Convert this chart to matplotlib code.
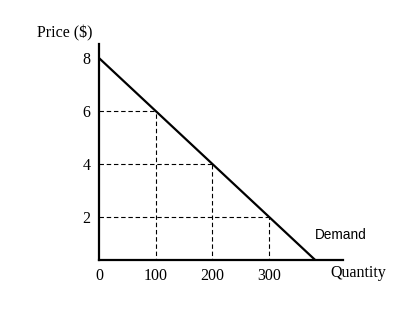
import matplotlib.pyplot as plt
import numpy as np

# demand curve: P = 8 - 0.02 Q
demand_q = [0, 400]
demand_p = [8, 0]

# marked points on the curve
point_q = [100, 200, 300]
point_p = [6, 4, 2]

x_ticks = [0, 100, 200, 300]
y_ticks = [2, 4, 6, 8]

serif = ['Liberation Serif', 'DejaVu Serif']
sans = ['Liberation Sans', 'DejaVu Sans']

fig = plt.figure(figsize=(4.15, 3.12), dpi=100)
ax = fig.add_axes([99 / 415, 52 / 312, 244 / 415, 216 / 312])

ax.plot(demand_q, demand_p, color='black', lw=1.6)

# dashed guide lines
for q, p in zip(point_q, point_p):
    ax.plot([0, q], [p, p], color='black', lw=0.8, ls=(0, (4, 2.5)))
    ax.plot([q, q], [0, p], color='black', lw=0.8, ls=(0, (4, 2.5)))

ax.set_xlim(0, 430)
ax.set_ylim(0.38, 8.53)

for side in ['top', 'right']:
    ax.spines[side].set_visible(False)
for side in ['left', 'bottom']:
    ax.spines[side].set_linewidth(1.6)

ax.set_xticks(x_ticks)
ax.set_yticks(y_ticks)
ax.tick_params(length=0, labelsize=11.5, pad=6)
for lab in ax.get_xticklabels() + ax.get_yticklabels():
    lab.set_family(serif)

fig.text(37 / 415, 1 - 33 / 312, 'Price ($)', family=serif, fontsize=11.5,
         va='center', ha='left')
fig.text(330 / 415, 1 - 273 / 312, 'Quantity', family=serif, fontsize=11.5,
         va='center', ha='left')
fig.text(315 / 415, 1 - 235 / 312, 'Demand', family=sans, fontsize=9.8,
         va='center', ha='left')

fig.savefig('out.png', dpi=100)
